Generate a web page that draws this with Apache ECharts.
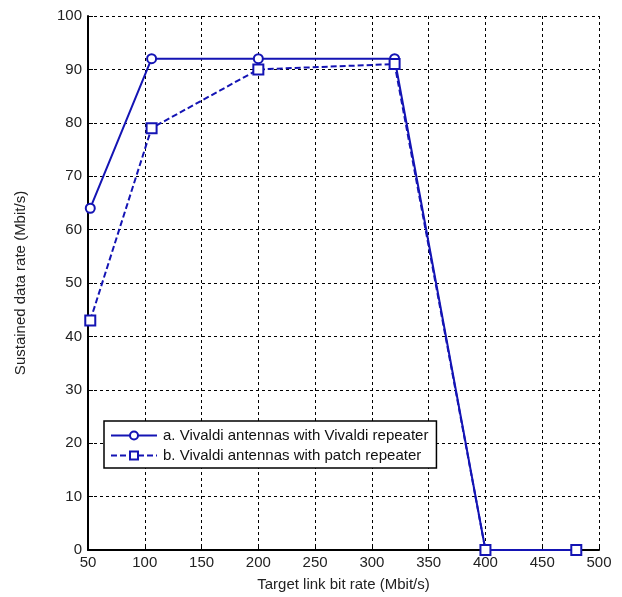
<!DOCTYPE html>
<html>
<head>
<meta charset="utf-8">
<script src="https://cdn.jsdelivr.net/npm/echarts@6/dist/echarts.min.js"></script>
<style>
html,body{margin:0;padding:0;background:#fff;}
#c{width:622px;height:597px;}
</style>
</head>
<body>
<div id="c"></div>
<script>
var xValues = [52, 106, 200, 320, 400, 480];
var seriesA = [64, 92, 92, 92, 0, 0];
var seriesB = [43, 79, 90, 91, 0, 0];
var seriesNames = ['a. Vivaldi antennas with Vivaldi repeater', 'b. Vivaldi antennas with patch repeater'];
var xTitle = 'Target link bit rate (Mbit/s)';
var yTitle = 'Sustained data rate (Mbit/s)';

function pairs(xs, ys){ return xs.map(function(x,i){ return [x, ys[i]]; }); }

var FONT = 'Liberation Sans, Arial, sans-serif';
var BLUE = '#1414b4';

var chart = echarts.init(document.getElementById('c'), null, {renderer:'canvas'});
chart.setOption({
  animation: false,
  backgroundColor: '#fff',
  grid: {left: 88, top: 16, right: 23, bottom: 43, containLabel: false},
  xAxis: {
    type: 'value', min: 50, max: 500, interval: 50,
    name: xTitle, nameLocation: 'middle', nameGap: 27,
    nameTextStyle: {fontFamily: FONT, fontSize: 15, color: '#222'},
    axisLine: {onZero: false, lineStyle: {color: '#000', width: 2}},
    axisTick: {inside: true, length: 5, lineStyle: {color: '#000', width: 1}},
    axisLabel: {fontFamily: FONT, fontSize: 15, color: '#222', margin: 5},
    splitLine: {show: true, lineStyle: {color: '#000', width: 1, type: [3, 3]}}
  },
  yAxis: {
    type: 'value', min: 0, max: 100, interval: 10,
    name: yTitle, nameLocation: 'middle', nameGap: 60, nameRotate: 90,
    nameTextStyle: {fontFamily: FONT, fontSize: 15, color: '#222'},
    axisLine: {onZero: false, lineStyle: {color: '#000', width: 2}},
    axisTick: {inside: true, length: 5, lineStyle: {color: '#000', width: 1}},
    axisLabel: {fontFamily: FONT, fontSize: 15, color: '#222', margin: 6},
    splitLine: {show: true, lineStyle: {color: '#000', width: 1, type: [3, 3]}}
  },
  legend: {
    orient: 'vertical', left: 104, top: 421,
    backgroundColor: '#fff', borderColor: '#000', borderWidth: 1.5, borderRadius: 0,
    padding: [7, 8, 5, 6], itemGap: 5, itemWidth: 46, itemHeight: 10,
    textStyle: {fontFamily: FONT, fontSize: 15, color: '#111', padding: [0, 0, 0, 1]},
    data: seriesNames
  },
  series: [
    {
      name: seriesNames[0], type: 'line', data: pairs(xValues, seriesA),
      symbol: 'emptyCircle', symbolSize: 9,
      lineStyle: {color: BLUE, width: 2, type: 'solid'},
      itemStyle: {color: BLUE, borderColor: BLUE, borderWidth: 1.5},
      z: 3
    },
    {
      name: seriesNames[1], type: 'line', data: pairs(xValues, seriesB),
      symbol: 'emptyRect', symbolSize: 10,
      lineStyle: {color: BLUE, width: 2, type: [6, 3]},
      itemStyle: {color: BLUE, borderColor: BLUE, borderWidth: 1.8},
      z: 4
    }
  ]
});
</script>
</body>
</html>
